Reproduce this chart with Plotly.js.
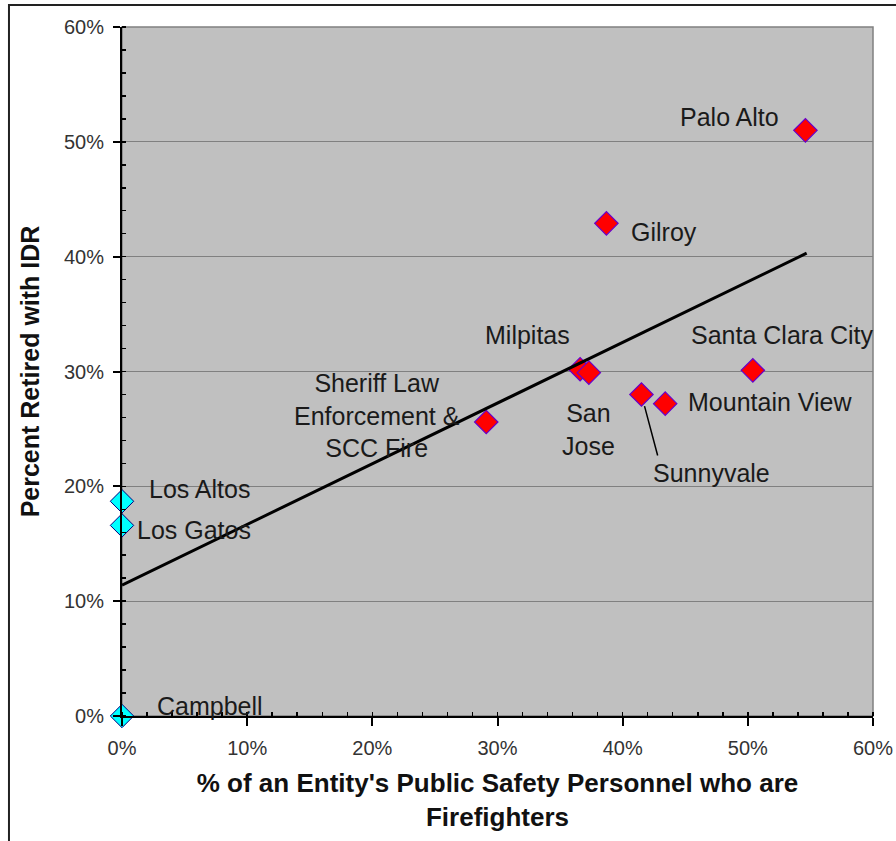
<!DOCTYPE html>
<html>
<head>
<meta charset="utf-8">
<script src="https://cdn.plot.ly/plotly-3.0.1.min.js"></script>
<style>html,body{margin:0;padding:0;background:#fff;}#chart{width:896px;height:841px;}</style>
</head>
<body>
<div id="chart"></div>
<script>
// Entities with firefighters (red) — x: % of public safety personnel who are firefighters, y: % retired with IDR
const fireNames = ['Palo Alto', 'Gilroy', 'Milpitas', 'San Jose', 'Santa Clara City', 'Sunnyvale', 'Mountain View', 'Sheriff Law Enforcement & SCC Fire'];
const fireX = [54.6, 38.7, 36.6, 37.3, 50.4, 41.5, 43.4, 29.1];
const fireY = [51.0, 42.9, 30.2, 29.9, 30.1, 28.0, 27.2, 25.6];

// Entities without firefighters (cyan)
const noFireNames = ['Los Altos', 'Los Gatos', 'Campbell'];
const noFireX = [0, 0, 0];
const noFireY = [18.7, 16.6, 0];

// Trend line endpoints
const trendX = [0, 54.7];
const trendY = [11.4, 40.3];

// Axis ticks
const tickVals = [0, 10, 20, 30, 40, 50, 60];
const tickText = ['0%', '10%', '20%', '30%', '40%', '50%', '60%'];

// Label text and pixel offsets from each marker (styling)
const fireLabels = ['Palo Alto', 'Gilroy', 'Milpitas', 'San<br>Jose', 'Santa Clara City', 'Sunnyvale', 'Mountain View', 'Sheriff Law<br>Enforcement &amp;<br>SCC Fire'];
const fireShift = [[-76, 13], [58, -9], [-53, 34], [0, -57], [30, 35], [70, -79], [105, 2], [-109, 7]];
const noFireShift = [[77, 12], [72, -5], [88, 10]];

const FAM = 'Liberation Sans, Arial, sans-serif';
const labelFont = {family: FAM, size: 25, color: '#1a1a1a'};

const annotations = [];
fireNames.forEach((n, i) => {
  annotations.push({x: fireX[i], y: fireY[i], xref: 'x', yref: 'y', text: fireLabels[i],
    showarrow: false, xshift: fireShift[i][0], yshift: fireShift[i][1], font: labelFont, align: 'center'});
});
noFireNames.forEach((n, i) => {
  annotations.push({x: noFireX[i], y: noFireY[i], xref: 'x', yref: 'y', text: n,
    showarrow: false, xshift: noFireShift[i][0], yshift: noFireShift[i][1], font: labelFont});
});
// Sunnyvale leader line
const sv = fireNames.indexOf('Sunnyvale');
annotations.push({x: fireX[sv], y: fireY[sv], xref: 'x', yref: 'y', text: ' ', showarrow: true,
  arrowhead: 0, arrowwidth: 1.5, arrowcolor: '#000', ax: 17, ay: 64, standoff: 12, font: {size: 2}});

const traces = [
  {x: noFireX, y: noFireY, text: noFireNames, type: 'scatter', mode: 'markers', cliponaxis: false,
    marker: {symbol: 'diamond', size: 18, color: '#00ffff', line: {color: '#000080', width: 1}}, hoverinfo: 'text+x+y'},
  {x: fireX, y: fireY, text: fireNames, type: 'scatter', mode: 'markers', cliponaxis: false,
    marker: {symbol: 'diamond', size: 18, color: '#ff0000', line: {color: '#6600cc', width: 1.2}}, hoverinfo: 'text+x+y'},
  {x: trendX, y: trendY, type: 'scatter', mode: 'lines', line: {color: '#000', width: 3}, hoverinfo: 'skip'}
];

const layout = {
  width: 896, height: 841,
  margin: {l: 122, r: 23, t: 27, b: 125, pad: 0},
  paper_bgcolor: '#ffffff',
  plot_bgcolor: '#c0c0c0',
  showlegend: false,
  xaxis: {
    range: [0, 60], tickmode: 'array', tickvals: tickVals, ticktext: tickText, showgrid: false, zeroline: false,
    showline: true, linecolor: '#000', linewidth: 2,
    ticks: 'outside', ticklen: 8, tickwidth: 2, tickcolor: '#000',
    minor: {tickmode: 'linear', tick0: 0, dtick: 2, ticks: 'inside', ticklen: 4, tickwidth: 1.5, tickcolor: '#000', showgrid: false},
    tickfont: {family: FAM, size: 20, color: '#333'}, ticklabelstandoff: 5,
    title: {text: "<b>% of an Entity's Public Safety Personnel who are<br>Firefighters</b>", font: {family: FAM, size: 26, color: '#111'}, standoff: 16},
    fixedrange: true
  },
  yaxis: {
    range: [0, 60], tickmode: 'array', tickvals: tickVals, ticktext: tickText, showgrid: true, gridcolor: '#808080', gridwidth: 1.2,
    zeroline: false, showline: true, linecolor: '#000', linewidth: 2,
    ticks: 'outside', ticklen: 7, tickwidth: 2, tickcolor: '#000',
    minor: {tickmode: 'linear', tick0: 0, dtick: 2, ticks: 'inside', ticklen: 4, tickwidth: 1.5, tickcolor: '#000', showgrid: false},
    tickfont: {family: FAM, size: 20, color: '#333'}, ticklabelstandoff: 5,
    title: {text: '<b>Percent Retired with IDR</b>', font: {family: FAM, size: 25, color: '#111'}, standoff: 17},
    fixedrange: true
  },
  shapes: [
    {type: 'rect', xref: 'paper', yref: 'paper', x0: 0, x1: 1, y0: 0, y1: 1, line: {color: '#808080', width: 1.5}, layer: 'below'},
    {type: 'rect', xref: 'paper', yref: 'paper', x0: -0.1505, x1: 1.04, y0: -0.19, y1: 1.0319, line: {color: '#222', width: 2}, layer: 'above'}
  ],
  annotations: annotations
};

Plotly.newPlot('chart', traces, layout, {displayModeBar: false, staticPlot: true});
</script>
</body>
</html>
